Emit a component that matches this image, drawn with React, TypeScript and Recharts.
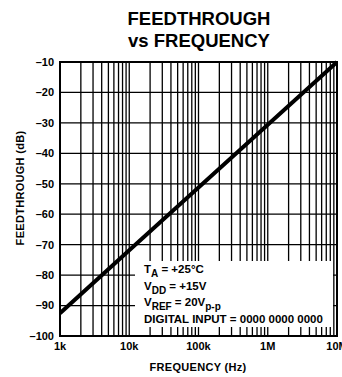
import { LineChart, Line, XAxis, YAxis, CartesianGrid } from "recharts";

const frequencies = [1e3, 1e4, 1e5, 1e6, 1e7];
const feedthroughDb = [-92.5, -71.8, -51.2, -30.6, -10];

const decadeLabels: Record<number, string> = {
  1000: "1k",
  10000: "10k",
  100000: "100k",
  1000000: "1M",
  10000000: "10M",
};

const decades = [1e3, 1e4, 1e5, 1e6];
const multipliers = [1, 2, 3, 4, 5, 6, 7, 8, 9];
const yTicks = [-100, -90, -80, -70, -60, -50, -40, -30, -20, -10];

const xTicks = [...decades.flatMap((d) => multipliers.map((m) => m * d)), 1e7];

const data = frequencies.map((f, i) => ({ f, db: feedthroughDb[i] }));

const FONT = "'Liberation Sans', Arial, Helvetica, sans-serif";

export default function App() {
  return (
    <div style={{ position: "absolute", left: 0, top: 0, width: 342, height: 377, background: "#fff" }}>
      <LineChart
        width={342}
        height={377}
        data={data}
        margin={{ top: 62, right: 5, bottom: 0, left: 0 }}
      >
        <CartesianGrid stroke="#000" strokeWidth={1.3} />
        <XAxis
          dataKey="f"
          type="number"
          scale="log"
          domain={[1e3, 1e7]}
          ticks={xTicks}
          interval={0}
          allowDataOverflow
          height={41}
          tickLine={false}
          tickSize={0}
          tickMargin={6}
          axisLine={{ stroke: "#000", strokeWidth: 2 }}
          tickFormatter={(v: number) => decadeLabels[v] ?? ""}
          tick={{ fill: "#000", fontSize: 11, fontWeight: 700, fontFamily: FONT }}
        />
        <YAxis
          type="number"
          domain={[-100, -10]}
          ticks={yTicks}
          interval={0}
          width={60}
          tickLine={false}
          tickSize={0}
          tickMargin={6}
          axisLine={{ stroke: "#000", strokeWidth: 2 }}
          tickFormatter={(v: number) => String(v).replace("-", "\u2013")}
          tick={{ fill: "#000", fontSize: 11, fontWeight: 700, fontFamily: FONT }}
        />
        <Line
          dataKey="db"
          stroke="#000"
          strokeWidth={4}
          dot={false}
          isAnimationActive={false}
        />
      </LineChart>
      <svg
        width={342}
        height={377}
        style={{ position: "absolute", left: 0, top: 0, pointerEvents: "none" }}
        fontFamily={FONT}
        fontWeight={700}
      >
        <text x={199} y={25} textAnchor="middle" fontSize={18.5}>FEEDTHROUGH</text>
        <text x={199} y={47} textAnchor="middle" fontSize={18.5}>vs FREQUENCY</text>
        <rect x={60} y={62} width={277} height={274} fill="none" stroke="#000" strokeWidth={2} />
        <text
          x={0}
          y={0}
          fontSize={11}
          textAnchor="middle"
          letterSpacing={0.3}
          transform="translate(24 188) rotate(-90)"
        >
          FEEDTHROUGH (dB)
        </text>
        <text x={198} y={371} textAnchor="middle" fontSize={11} letterSpacing={0.3}>
          FREQUENCY (Hz)
        </text>
        <rect x={135} y={261} width={198} height={66} fill="#fff" />
        <g fontSize={11.5}>
          <text x={144} y={273}>
            T<tspan fontSize={10} dy={4}>A</tspan>
            <tspan dy={-4}> = +25°C</tspan>
          </text>
          <text x={144} y={290}>
            V<tspan fontSize={10} dy={4}>DD</tspan>
            <tspan dy={-4}> = +15V</tspan>
          </text>
          <text x={144} y={306}>
            V<tspan fontSize={10} dy={4}>REF</tspan>
            <tspan dy={-4}> = 20V</tspan>
            <tspan fontSize={10} dy={4}>p-p</tspan>
          </text>
          <text x={144} y={323}>DIGITAL INPUT = 0000 0000 0000</text>
        </g>
      </svg>
    </div>
  );
}
